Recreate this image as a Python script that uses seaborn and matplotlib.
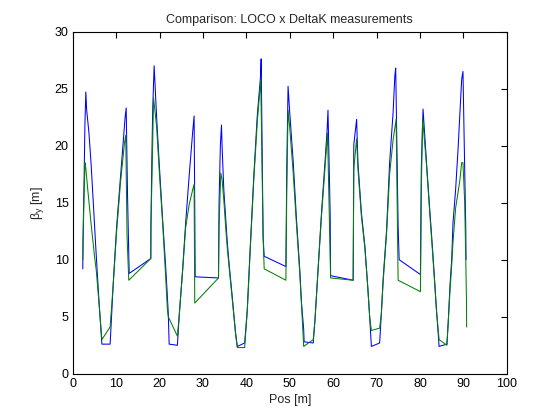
import numpy as np
import pandas as pd
import seaborn as sns
import matplotlib
matplotlib.use("Agg")
import matplotlib.pyplot as plt

# beta_y along the ring (blue = LOCO, green = DeltaK)
pos_loco = [2.3, 2.35, 2.6, 2.8, 3.0, 3.2, 3.7, 4.2, 4.84, 5.2, 5.6, 6.1, 6.7, 8.6,
            9.4, 10.1, 11.0, 12.06, 12.3, 12.6, 12.9, 13.0, 17.97, 18.0, 18.2, 18.4,
            18.74, 19.3, 19.9, 20.7, 21.4, 21.7, 22.0, 22.2, 24.1, 24.5, 25.3, 26.0,
            26.8, 27.6, 27.95, 28.1, 28.2, 33.57, 33.7, 34.0, 34.26, 34.4, 34.8, 35.2,
            35.6, 36.0, 36.8, 37.5, 37.9, 39.6, 40.2, 40.9, 41.7, 42.5, 43.25, 43.4,
            43.85, 44.1, 49.1, 49.3, 49.6, 50.0, 50.8, 51.5, 52.3, 52.7, 53.2, 53.3,
            55.4, 55.8, 56.5, 57.3, 58.1, 58.6, 58.8, 59.3, 59.4, 64.6, 64.75, 65.4,
            65.7, 66.5, 67.3, 68.0, 68.4, 68.8, 70.7, 71.1, 71.5, 72.3, 73.0, 73.8,
            74.2, 74.4, 74.96, 75.2, 80.1, 80.3, 80.7, 81.5, 82.3, 82.9, 83.4, 83.8,
            84.4, 86.2, 86.5, 86.9, 87.3, 87.6, 88.2, 88.8, 89.2, 89.6, 89.9, 90.3,
            90.55, 90.6]
beta_loco = [9.2, 11.8, 17.0, 22.0, 24.7, 23.1, 21.2, 18.5, 14.2, 11.7, 9.1, 6.0, 2.6, 2.6,
             8.5, 12.9, 17.3, 22.5, 23.3, 15.9, 10.4, 8.8, 10.1, 12.9, 18.5, 23.0,
             27.0, 22.6, 18.5, 13.5, 9.4, 7.4, 5.3, 2.6, 2.5, 5.0, 9.1, 13.2,
             17.3, 21.1, 22.6, 14.4, 8.5, 8.4, 15.0, 20.0, 21.8, 19.9, 16.1, 13.8,
             11.5, 9.7, 6.5, 3.6, 2.4, 2.7, 5.6, 11.2, 17.3, 22.6, 26.0, 27.6,
             12.0, 10.3, 9.4, 18.0, 25.2, 22.8, 18.5, 13.8, 9.1, 6.2, 3.9, 2.8,
             2.7, 4.7, 9.1, 14.1, 18.5, 21.4, 23.1, 14.0, 8.6, 8.2, 20.1, 22.3,
             18.5, 14.1, 11.2, 7.4, 5.0, 2.4, 2.7, 5.3, 8.3, 12.6, 18.5, 22.9,
             26.1, 26.8, 12.9, 10.0, 8.7, 18.0, 23.2, 18.5, 14.1, 10.9, 8.0, 5.6,
             2.4, 2.6, 4.5, 7.7, 10.0, 13.2, 16.1, 19.9, 22.9, 25.8, 26.5, 17.9,
             12.6, 10.0]

pos_deltak = [2.3, 2.5, 2.8, 3.0, 3.46, 4.2, 5.0, 5.4, 6.1, 6.7, 8.6, 9.4, 10.1, 11.0,
              11.9, 12.2, 12.5, 12.9, 17.97, 18.0, 18.4, 18.6, 19.3, 20.0, 20.7, 21.4,
              21.8, 22.0, 24.1, 24.5, 25.3, 26.0, 26.8, 27.6, 27.95, 28.1, 33.57, 33.7,
              34.1, 34.4, 34.8, 35.2, 35.6, 36.0, 36.8, 37.5, 37.9, 39.6, 40.2, 40.9,
              41.7, 42.5, 43.3, 43.85, 44.1, 49.1, 49.3, 49.6, 50.0, 50.8, 51.5, 52.3,
              52.7, 53.2, 55.4, 55.8, 56.5, 57.3, 58.1, 58.7, 59.4, 64.6, 64.75, 65.4,
              65.7, 66.5, 67.3, 68.0, 68.4, 68.8, 70.7, 71.1, 71.5, 72.3, 73.0, 73.8,
              74.5, 74.96, 80.1, 80.3, 80.6, 81.5, 82.3, 82.9, 83.4, 83.8, 84.4, 86.2,
              86.5, 86.9, 87.3, 87.6, 88.2, 88.8, 89.2, 89.6, 89.9, 90.3, 90.55, 90.7,
              90.75]
beta_deltak = [10.0, 14.0, 18.5, 18.0, 16.1, 13.2, 10.3, 9.1, 5.9, 3.0, 4.1, 8.3, 12.5, 16.8,
               20.2, 20.9, 12.0, 8.2, 10.1, 12.9, 20.0, 24.2, 21.7, 17.3, 13.2, 8.5,
               5.6, 5.0, 3.3, 5.0, 9.0, 12.8, 14.8, 16.1, 16.6, 6.2, 8.4, 13.0,
               17.6, 17.0, 15.2, 13.0, 11.0, 9.4, 6.3, 3.5, 2.3, 2.3, 5.5, 11.0,
               17.0, 22.0, 25.8, 12.0, 9.2, 8.2, 16.0, 23.1, 21.5, 17.5, 13.3, 8.8,
               6.0, 2.4, 3.0, 4.7, 9.0, 13.8, 18.0, 21.1, 8.4, 8.2, 18.0, 20.6,
               18.0, 13.8, 11.0, 7.4, 5.0, 3.8, 4.0, 5.3, 8.0, 12.3, 17.5, 20.5,
               22.3, 8.2, 7.2, 16.0, 22.4, 18.3, 13.8, 10.6, 7.8, 5.5, 3.0, 2.5,
               4.5, 7.2, 9.5, 11.5, 14.5, 16.0, 17.0, 18.5, 18.5, 15.0, 10.0, 6.6,
               4.1]

loco = pd.DataFrame({"pos": pos_loco, "beta": beta_loco})
deltak = pd.DataFrame({"pos": pos_deltak, "beta": beta_deltak})

sns.set_style("white")
plt.rcParams["font.family"] = ["Liberation Sans", "DejaVu Sans"]
plt.rcParams["mathtext.fontset"] = "custom"
plt.rcParams["mathtext.rm"] = "Liberation Sans"
plt.rcParams["mathtext.it"] = "Liberation Sans"

fig = plt.figure(figsize=(5.6, 4.2), dpi=100)
ax = fig.add_axes([0.13, 0.11, 0.775, 0.815])

sns.lineplot(data=loco, x="pos", y="beta", sort=False, estimator=None,
             color="#0000ff", lw=0.75, ax=ax)
sns.lineplot(data=deltak, x="pos", y="beta", sort=False, estimator=None,
             color="#008000", lw=0.75, ax=ax)

ax.set_xlim(0, 100)
ax.set_ylim(0, 30)
ax.set_xticks(np.arange(0, 101, 10))
ax.set_yticks(np.arange(0, 31, 5))
ax.tick_params(direction="in", length=4, width=0.8, top=True, right=True,
               labelsize=9, colors="black", pad=3)
for s in ax.spines.values():
    s.set_color("black")
    s.set_linewidth(0.8)

ax.set_title("Comparison: LOCO x DeltaK measurements", fontsize=9, pad=6)
ax.set_xlabel("Pos [m]", fontsize=9, labelpad=3)
ax.set_ylabel(r"$\beta_y$ [m]", fontsize=9, labelpad=6)

fig.savefig("out.png", dpi=100, facecolor="white")
